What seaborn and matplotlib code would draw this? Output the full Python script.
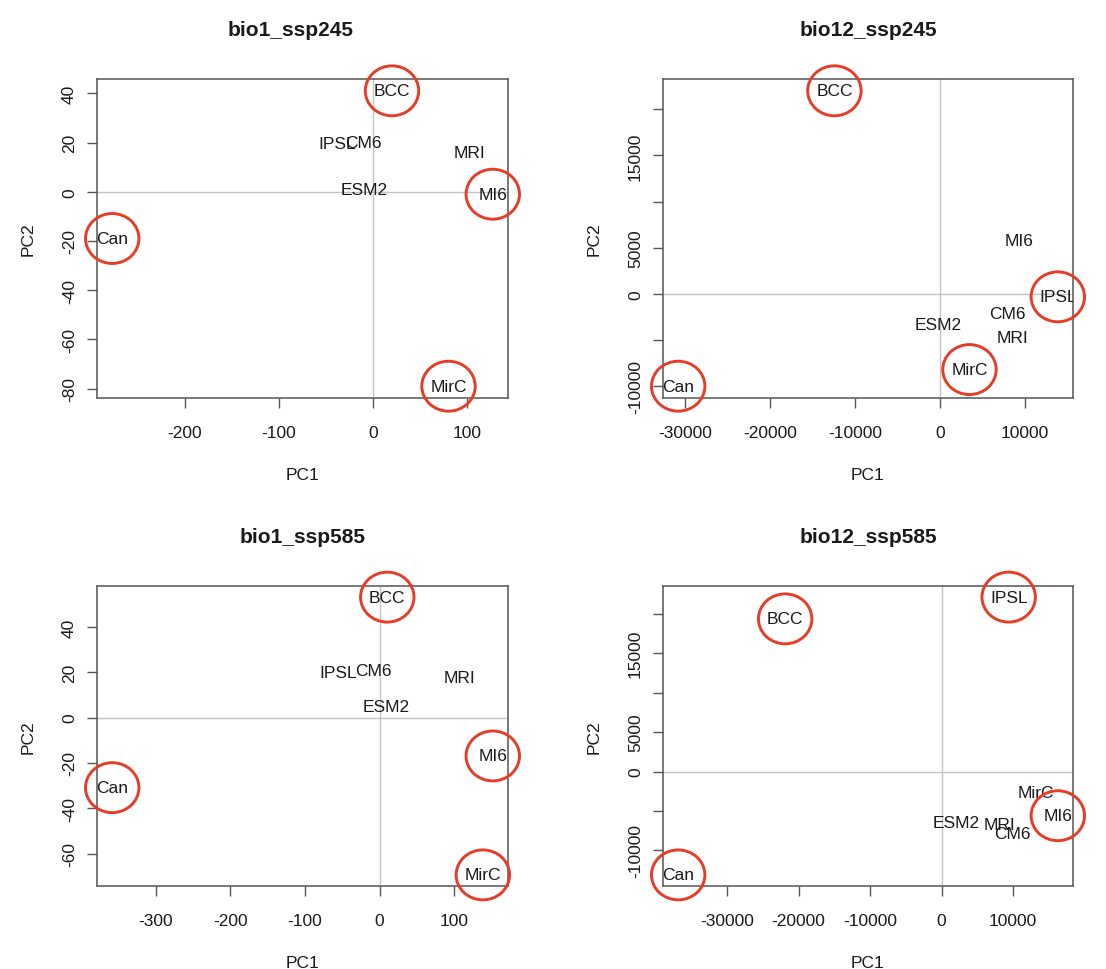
import numpy as np
import pandas as pd
import matplotlib
matplotlib.use("Agg")
import matplotlib.pyplot as plt
import seaborn as sns
from matplotlib.path import Path
from matplotlib.ticker import FixedLocator, FixedFormatter

# ---------------- data ----------------
models = ["BCC", "Can", "CM6", "ESM2", "IPSL", "MI6", "MirC", "MRI"]

bio1_245_pc1 = [20, -277, -10, -10, -38, 127, 80, 102]
bio1_245_pc2 = [41, -19, 20, 1, 19.5, -1, -79, 16]
bio1_245_circled = ["BCC", "Can", "MI6", "MirC"]

bio12_245_pc1 = [-12400, -30790, 8000, -170, 13900, 9330, 3500, 8620]
bio12_245_pc2 = [22000, -10000, -2120, -3270, -320, 5830, -8200, -4710]
bio12_245_circled = ["BCC", "Can", "IPSL", "MirC"]

bio1_585_pc1 = [10.4, -358, -8.5, 9.5, -55.9, 151.7, 138.4, 106.6]
bio1_585_pc2 = [53.2, -30.9, 21, 4.7, 20.1, -16.9, -69.4, 17.6]
bio1_585_circled = ["BCC", "Can", "MI6", "MirC"]

bio12_585_pc1 = [-21880, -36840, 9880, 2070, 9380, 16250, 13190, 8150]
bio12_585_pc2 = [19370, -13120, -7810, -6460, 22130, -5610, -2660, -6670]
bio12_585_circled = ["BCC", "Can", "IPSL", "MI6"]

titles = ["bio1_ssp245", "bio12_ssp245", "bio1_ssp585", "bio12_ssp585"]

bio1_245_xticks = [-200, -100, 0, 100]
bio1_245_yticks = [-80, -60, -40, -20, 0, 20, 40]
bio1_585_xticks = [-300, -200, -100, 0, 100]
bio1_585_yticks = [-60, -40, -20, 0, 20, 40]
bio12_xticks = [-30000, -20000, -10000, 0, 10000]
bio12_yticks = [-10000, -5000, 0, 5000, 10000, 15000, 20000]
bio12_ylabels = ["-10000", "", "0", "5000", "", "15000", ""]

# ---------------- style ----------------
sns.set_theme(style="white")
plt.rcParams["font.family"] = ["Liberation Sans", "DejaVu Sans"]

W, H = 1106, 970
fig = plt.figure(figsize=(W / 100, H / 100), dpi=100)

FRAME = "#555555"
TXT = "#1a1a1a"
RED = "#e63c28"
FS = 12.5

# ellipse marker (hand-drawn looking circles, slightly wider than tall)
uc = Path.unit_circle()
ellipse = Path(uc.vertices * np.array([1.07, 1.0]), uc.codes)

panels = [
    dict(title=titles[0], pc1=bio1_245_pc1, pc2=bio1_245_pc2, circ=bio1_245_circled,
         xt=bio1_245_xticks, yt=bio1_245_yticks, yl=None, box=(97, 80, 508, 399), tx=0.471),
    dict(title=titles[1], pc1=bio12_245_pc1, pc2=bio12_245_pc2, circ=bio12_245_circled,
         xt=bio12_xticks, yt=bio12_yticks, yl=bio12_ylabels, box=(663, 80, 1073, 399), tx=0.5),
    dict(title=titles[2], pc1=bio1_585_pc1, pc2=bio1_585_pc2, circ=bio1_585_circled,
         xt=bio1_585_xticks, yt=bio1_585_yticks, yl=None, box=(97, 587, 508, 887), tx=0.5),
    dict(title=titles[3], pc1=bio12_585_pc1, pc2=bio12_585_pc2, circ=bio12_585_circled,
         xt=bio12_xticks, yt=bio12_yticks, yl=bio12_ylabels, box=(663, 587, 1073, 887), tx=0.5),
]

for p in panels:
    l, t, r, b = p["box"]
    wpx, hpx = r - l, b - t
    ax = fig.add_axes([l / W, 1 - b / H, wpx / W, hpx / H])
    df = pd.DataFrame({"model": models, "PC1": p["pc1"], "PC2": p["pc2"]})

    # R-style axis ranges: data range extended by 4 %
    xr = df["PC1"].max() - df["PC1"].min()
    yr = df["PC2"].max() - df["PC2"].min()
    xlim = (df["PC1"].min() - 0.04 * xr, df["PC1"].max() + 0.04 * xr)
    ylim = (df["PC2"].min() - 0.04 * yr, df["PC2"].max() + 0.04 * yr)

    # reference lines
    ax.axhline(0, color="#c4c4c4", lw=1.0, zorder=1)
    ax.axvline(0, color="#c4c4c4", lw=1.0, zorder=1)

    # labels (text marks)
    for _, row in df.iterrows():
        ax.text(row["PC1"], row["PC2"], row["model"], ha="center", va="center",
                fontsize=FS, color=TXT, clip_on=True, zorder=3)

    # red circles around highlighted models
    hl = df[df["model"].isin(p["circ"])]
    sns.scatterplot(data=hl, x="PC1", y="PC2", ax=ax, marker=ellipse, s=1480,
                    facecolor="none", edgecolor=RED, linewidth=2.1,
                    clip_on=False, zorder=4, legend=False)

    ax.set_xlim(*xlim)
    ax.set_ylim(*ylim)

    # ticks
    ax.xaxis.set_major_locator(FixedLocator(p["xt"]))
    ax.xaxis.set_major_formatter(FixedFormatter([str(v) for v in p["xt"]]))
    ax.yaxis.set_major_locator(FixedLocator(p["yt"]))
    ylabs = p["yl"] if p["yl"] is not None else [str(v) for v in p["yt"]]
    ax.yaxis.set_major_formatter(FixedFormatter(ylabs))
    ax.tick_params(axis="both", which="major", direction="out", length=7.2,
                   width=1.0, color=FRAME, labelsize=FS, labelcolor=TXT,
                   bottom=True, left=True)
    ax.tick_params(axis="x", pad=12.3)
    ax.tick_params(axis="y", pad=7.2, labelrotation=90)
    for lab in ax.get_yticklabels():
        lab.set_va("center")

    for sp in ax.spines.values():
        sp.set_color(FRAME)
        sp.set_linewidth(1.1)
        sp.set_visible(True)

    ax.set_xlabel("PC1", fontsize=FS, color=TXT)
    ax.set_ylabel("PC2", fontsize=FS, color=TXT)
    ax.xaxis.set_label_coords(0.5, -69 / hpx)
    ax.yaxis.set_label_coords(-61 / wpx, 0.5)

    ax.set_title(p["title"], fontsize=15, fontweight="bold", color=TXT,
                 pad=31.5, x=p["tx"])

fig.savefig("out.png", dpi=100)
